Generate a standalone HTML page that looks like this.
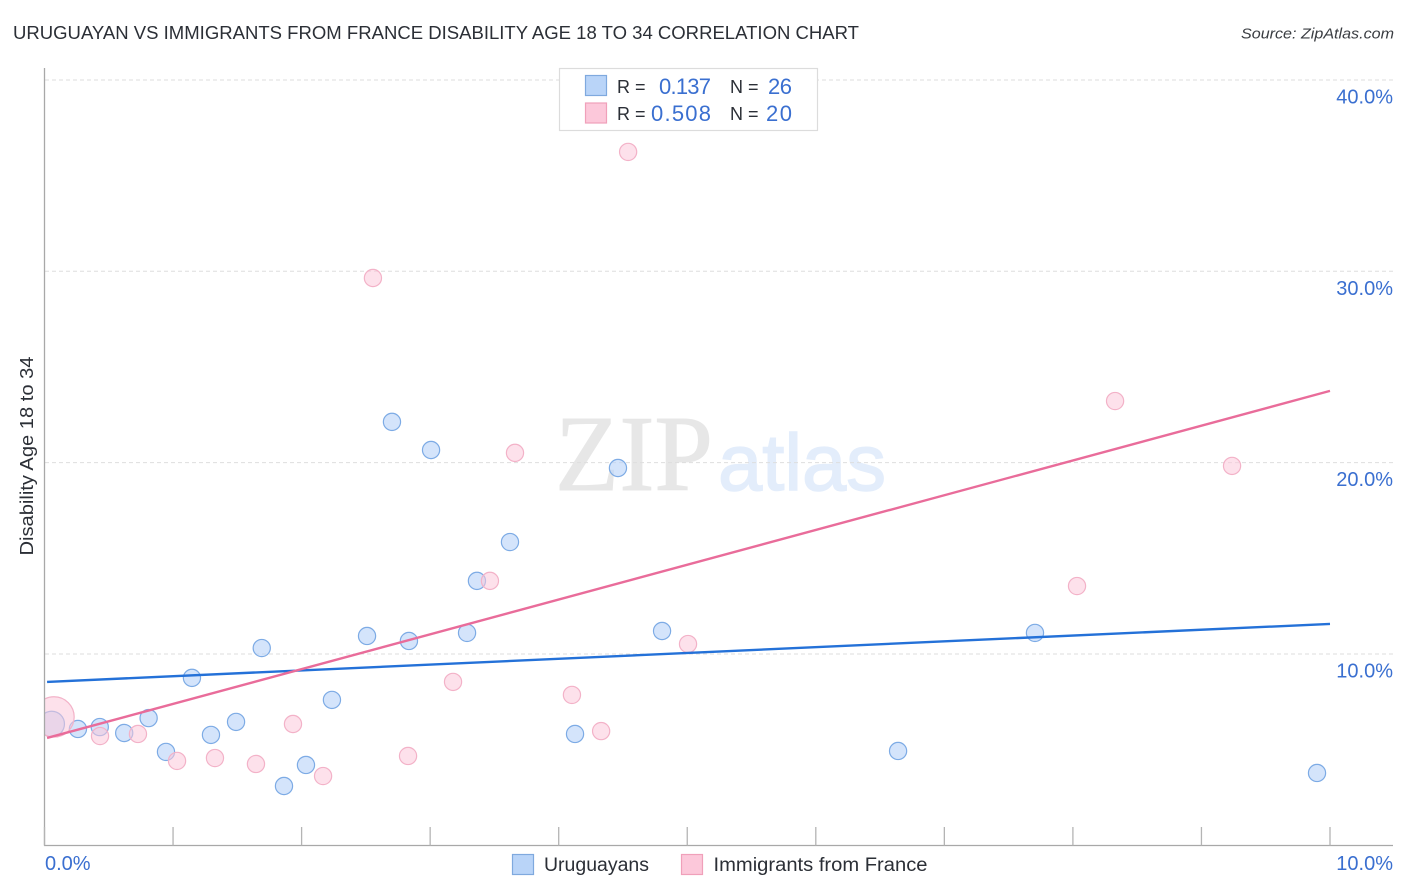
<!DOCTYPE html>
<html lang="en">
<head>
<meta charset="utf-8">
<title>Uruguayan vs Immigrants from France Disability Age 18 to 34 Correlation Chart</title>
<style>
html,body{margin:0;padding:0;background:#fff;width:1406px;height:892px;overflow:hidden}
svg{display:block}
text{font-family:"Liberation Sans",sans-serif}
</style>
</head>
<body>
<svg id="chart" width="1406" height="892" viewBox="0 0 1406 892" xmlns="http://www.w3.org/2000/svg">
  <defs>
    <clipPath id="plot-clip"><rect x="45" y="60" width="1348" height="785"/></clipPath>
  </defs>
  <rect x="0" y="0" width="1406" height="892" fill="#fff"/>
  <text x="13" y="39" font-size="18.5" fill="#2b2f36" textLength="846" lengthAdjust="spacingAndGlyphs">URUGUAYAN VS IMMIGRANTS FROM FRANCE DISABILITY AGE 18 TO 34 CORRELATION CHART</text>
  <text x="1241" y="38.500" font-size="15" font-style="italic" fill="#3a3d42" textLength="153" lengthAdjust="spacingAndGlyphs">Source: ZipAtlas.com</text>
  <g>
    <text x="555" y="490" font-size="108" fill="#e7e7e7" stroke="#e7e7e7" stroke-width="1" style="font-family:'Liberation Serif',serif" textLength="158" lengthAdjust="spacingAndGlyphs">ZIP</text>
    <text x="718" y="490" font-size="80" fill="#e3edfb" stroke="#e3edfb" stroke-width="1.500" textLength="168" lengthAdjust="spacingAndGlyphs">atlas</text>
  </g>
  <g id="grid"></g>
  <g id="marks-blue" clip-path="url(#plot-clip)"></g>
  <g id="marks-pink" clip-path="url(#plot-clip)"></g>
  <rect x="0" y="60" width="44.500" height="785" fill="#fff"/>
  <g id="axes"></g>
  <g id="trends"></g>
  <g id="labels"></g>
  <text transform="translate(33,456) rotate(-90)" text-anchor="middle" font-size="18" fill="#2b2f36" textLength="199" lengthAdjust="spacingAndGlyphs">Disability Age 18 to 34</text>

  <g>
    <rect x="559.500" y="68.500" width="258" height="62" fill="#fff" stroke="#dcdcdc" stroke-width="1.200"/>
    <rect x="585.500" y="75.500" width="21" height="20" fill="#b9d4f8" stroke="#7fa9de" stroke-width="1.200"/>
    <rect x="585.500" y="103" width="21" height="20" fill="#fcc8da" stroke="#f0a0ba" stroke-width="1.200"/>
    <text x="617" y="93" font-size="18" fill="#2b2f36">R =</text>
    <text x="659" y="94" font-size="22" fill="#3a6fd0" textLength="52" lengthAdjust="spacing">0.137</text>
    <text x="730" y="93" font-size="18" fill="#2b2f36">N =</text>
    <text x="768" y="94" font-size="22" fill="#3a6fd0" textLength="24" lengthAdjust="spacing">26</text>
    <text x="617" y="120" font-size="18" fill="#2b2f36">R =</text>
    <text x="651" y="121" font-size="22" fill="#3a6fd0" textLength="60" lengthAdjust="spacing">0.508</text>
    <text x="730" y="120" font-size="18" fill="#2b2f36">N =</text>
    <text x="766" y="121" font-size="22" fill="#3a6fd0" textLength="26" lengthAdjust="spacing">20</text>
  </g>

  <g>
    <rect x="512.500" y="854.500" width="21" height="20" fill="#b9d4f8" stroke="#7fa9de" stroke-width="1.200"/>
    <text x="544" y="871" font-size="19" fill="#2b2f36" textLength="105" lengthAdjust="spacingAndGlyphs">Uruguayans</text>
    <rect x="681.500" y="854.500" width="21" height="20" fill="#fcc8da" stroke="#f0a0ba" stroke-width="1.200"/>
    <text x="713.500" y="871" font-size="19" fill="#2b2f36" textLength="214" lengthAdjust="spacingAndGlyphs">Immigrants from France</text>
  </g>
</svg>
<script>
var blueX = [0.056,0.26,0.43,0.62,0.81,0.945,1.147,1.295,1.49,1.69,1.863,2.034,2.236,2.509,2.703,2.835,3.007,3.287,3.364,3.621,4.127,4.461,4.804,6.64,7.705,9.899];
var blueY = [6.34,6.08,6.18,5.87,6.65,4.88,8.75,5.77,6.45,10.31,3.10,4.20,7.60,10.94,22.13,10.68,20.66,11.10,13.82,15.85,5.82,19.72,11.20,4.93,11.10,3.78];
var blueWeight = [2.2,1,1,1,1,1,1,1,1,1,1,1,1,1,1,1,1,1,1,1,1,1,1,1,1,1];
var pinkX = [0.074,0.432,0.727,1.031,1.326,1.645,1.933,2.167,2.555,2.828,3.178,3.465,3.66,4.103,4.33,4.54,5.006,8.032,8.328,9.238];
var pinkY = [6.71,5.71,5.82,4.41,4.56,4.25,6.34,3.62,29.65,4.67,8.54,13.82,20.51,7.86,5.97,36.24,10.52,13.55,23.22,19.83];
var pinkWeight = [5.5,1,1,1,1,1,1,1,1,1,1,1,1,1,1,1,1,1,1,1];
var blueTrendX = [0.02,10];
var blueTrendY = [8.54,11.57];
var pinkTrendX = [0.02,10];
var pinkTrendY = [5.61,23.75];
var yTicks = [10,20,30,40];
var yTickLabels = ["10.0%","20.0%","30.0%","40.0%"];
var xTicks = [0,1,2,3,4,5,6,7,8,9,10];
var xEndTicks = [0,10];
var xEndLabels = ["0.0%","10.0%"];

var NS = 'http://www.w3.org/2000/svg';
function sx(v){ return 44.5 + v * 128.55; }
function sy(v){ return 845.3 - v * 19.133; }
function make(tag, parentId, attrs){
  var el = document.createElementNS(NS, tag);
  for (var k in attrs) el.setAttribute(k, attrs[k]);
  document.getElementById(parentId).appendChild(el);
  return el;
}

yTicks.forEach(function(t, i){
  var g = make('line', 'grid', {x1:45, x2:1393, y1:sy(t), y2:sy(t), stroke:'#dedede', 'stroke-width':1, 'stroke-dasharray':'4 3'});
  
  
  var l = make('text', 'labels', {x:1393, y:sy(t) + 23.5, 'font-size':20, 'text-anchor':'end', fill:'#3a6fd0'});
  l.textContent = yTickLabels[i];
  
  
});

var yAxis = make('line', 'axes', {x1:44.5, x2:44.5, y1:68, y2:845.5, stroke:'#a8a8a8', 'stroke-width':1.3});


var xAxis = make('line', 'axes', {x1:44, x2:1393, y1:845.5, y2:845.5, stroke:'#a8a8a8', 'stroke-width':1.3});



xTicks.forEach(function(t){
  var m = make('line', 'axes', {x1:sx(t), x2:sx(t), y1:827, y2:845.5, stroke:'#b4b4b4', 'stroke-width':1.3});
  
  
});

xEndTicks.forEach(function(t, i){
  var anchorEnd = i === 1;
  var l = make('text', 'labels', {x:anchorEnd ? 1393 : 45, y:870, 'font-size':20, 'text-anchor':anchorEnd ? 'end' : 'start', fill:'#3a6fd0'});
  l.textContent = xEndLabels[i];
  
  
});

blueX.forEach(function(v, i){
  var c = make('circle', 'marks-blue', {cx:sx(v), cy:sy(blueY[i]), r:8.6 * Math.sqrt(blueWeight[i]), fill:'#b9d4f8', 'fill-opacity':0.62, stroke:'#7dabe5', 'stroke-width':1.2});
  
  
});
pinkX.forEach(function(v, i){
  var c = make('circle', 'marks-pink', {cx:sx(v), cy:sy(pinkY[i]), r:8.6 * Math.sqrt(pinkWeight[i]), fill:'#fcc8da', 'fill-opacity':0.55, stroke:'#f3b2c8', 'stroke-width':1.2});
  
  
});

var blueLine = make('line', 'trends', {x1:sx(blueTrendX[0]), y1:sy(blueTrendY[0]), x2:sx(blueTrendX[1]), y2:sy(blueTrendY[1]), stroke:'#2471d8', 'stroke-width':2.4});


var pinkLine = make('line', 'trends', {x1:sx(pinkTrendX[0]), y1:sy(pinkTrendY[0]), x2:sx(pinkTrendX[1]), y2:sy(pinkTrendY[1]), stroke:'#e96c9a', 'stroke-width':2.4});


</script>
</body>
</html>
